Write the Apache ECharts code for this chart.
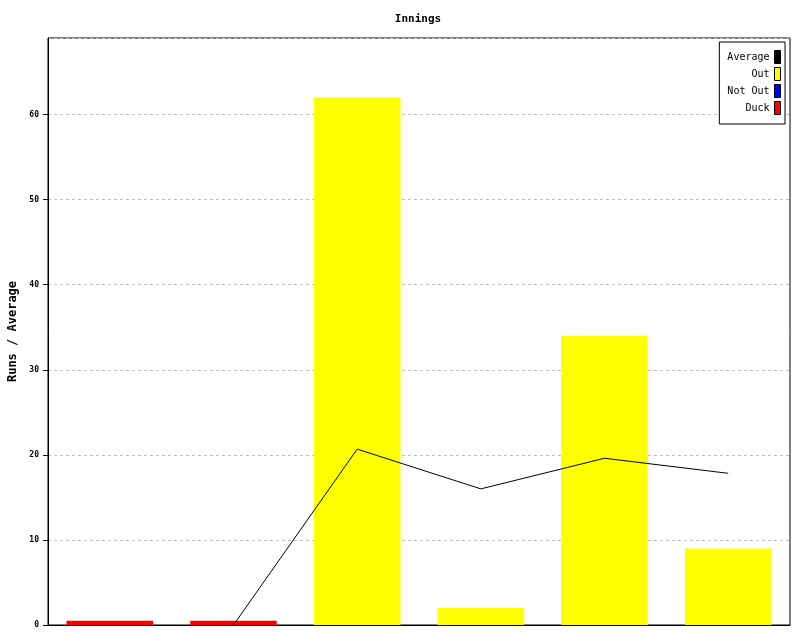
<!DOCTYPE html>
<html><head><meta charset="utf-8">
<script src="https://cdn.jsdelivr.net/npm/echarts@6/dist/echarts.min.js"></script>
<style>html,body{margin:0;padding:0;background:#fff}#c{width:800px;height:640px}</style>
</head><body><div id="c"></div>
<script>
const categories = ['1','2','3','4','5','6'];
const outRuns = [0, 0, 62, 2, 34, 9];
const notOutRuns = [0, 0, 0, 0, 0, 0];
const duckRuns = [0.5, 0.5, 0, 0, 0, 0];
const average = ['-', 0, 20.67, 16, 19.6, 17.83];
const yTicks = [0, 10, 20, 30, 40, 50, 60];

const font = 'DejaVu Sans Mono';
const chart = echarts.init(document.getElementById('c'), null, {renderer:'canvas'});
chart.setOption({
  animation: false,
  backgroundColor: '#fff',
  title: {text: 'Innings', left: 413, textAlign: 'center', top: 9,
    textStyle: {fontFamily: font, fontSize: 11, fontWeight: 'bold', color: '#000'}},
  grid: {left: 48, right: 10, top: 38, bottom: 15, containLabel: false, outerBoundsMode: 'none',
    show: true, borderColor: '#000', borderWidth: 1},
  legend: {
    right: 15, top: 42, orient: 'vertical', align: 'right',
    backgroundColor: '#fff', borderColor: '#000', borderWidth: 1, padding: [8, 4, 9, 8],
    itemWidth: 6, itemHeight: 13, itemGap: 3,
    textStyle: {fontFamily: font, fontSize: 10, color: '#000'},
    data: [
      {name: 'Average', icon: 'rect', itemStyle: {color: '#000', borderColor: '#000', borderWidth: 1}},
      {name: 'Out', icon: 'rect', itemStyle: {color: '#ffff00', borderColor: '#000', borderWidth: 1}},
      {name: 'Not Out', icon: 'rect', itemStyle: {color: '#0000ff', borderColor: '#000', borderWidth: 1}},
      {name: 'Duck', icon: 'rect', itemStyle: {color: '#ff0000', borderColor: '#000', borderWidth: 1}}
    ]
  },
  xAxis: {type: 'category', data: categories, boundaryGap: true,
    axisLine: {lineStyle: {color: '#000'}}, axisTick: {show: false}, axisLabel: {show: false}},
  yAxis: {type: 'value', min: 0, max: 69, interval: 10,
    name: 'Runs / Average', nameLocation: 'middle', nameGap: 29, nameRotate: 90,
    nameTextStyle: {fontFamily: font, fontSize: 12, fontWeight: 'bold', color: '#000'},
    axisLine: {show: true, lineStyle: {color: '#000'}},
    axisTick: {show: true, length: 5, lineStyle: {color: '#000'}},
    axisLabel: {fontFamily: font, fontSize: 8, fontWeight: 'bold', color: '#000', margin: 9, showMaxLabel: false,
      formatter: v => yTicks.includes(v) ? String(v) : ''},
    splitLine: {show: true, lineStyle: {color: '#c0c0c0', type: [3, 3], width: 1}}
  },
  series: [
    {name: 'Out', type: 'bar', stack: 'r', data: outRuns, barWidth: '70%', itemStyle: {color: '#ffff00'}},
    {name: 'Not Out', type: 'bar', stack: 'r', data: notOutRuns, itemStyle: {color: '#0000ff'}},
    {name: 'Duck', type: 'bar', stack: 'r', data: duckRuns, itemStyle: {color: '#ff0000'}},
    {name: 'Average', type: 'line', data: average, showSymbol: false, symbol: 'none', z: 5,
      lineStyle: {color: '#000', width: 1}, itemStyle: {color: '#000'}}
  ]
});
</script></body></html>
